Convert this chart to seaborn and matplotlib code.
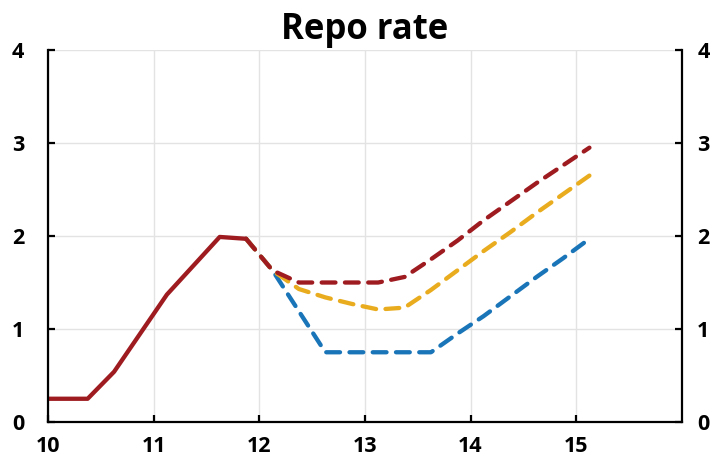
import matplotlib
matplotlib.use("Agg")
import matplotlib.pyplot as plt
import seaborn as sns
import pandas as pd

# Data (quarterly, x in years since 2000)
hist_x = [10.0, 10.375, 10.625, 11.125, 11.625, 11.875]
hist_y = [0.25, 0.25, 0.54, 1.37, 1.99, 1.97]

fc_x = [11.875, 12.125, 12.375, 12.625, 12.875, 13.125, 13.375, 13.625,
        13.875, 14.125, 14.375, 14.625, 14.875, 15.125]
red_y = [1.97, 1.63, 1.50, 1.50, 1.50, 1.50, 1.56, 1.75,
         1.95, 2.17, 2.37, 2.57, 2.76, 2.95]
yellow_y = [1.97, 1.63, 1.43, 1.34, 1.27, 1.21, 1.23, 1.42,
            1.63, 1.84, 2.04, 2.25, 2.45, 2.65]
blue_y = [1.97, 1.63, 1.19, 0.75, 0.75, 0.75, 0.75, 0.75,
          0.95, 1.14, 1.35, 1.56, 1.76, 1.97]

x_ticks = [10, 11, 12, 13, 14, 15]
y_ticks = [0, 1, 2, 3, 4]
title = "Repo rate"

RED = "#9E1B20"
YELLOW = "#E9AC1F"
BLUE = "#1A75B8"

sns.set_theme(style="white")
plt.rcParams['font.family'] = ['Open Sans', 'DejaVu Sans']
plt.rcParams['text.color'] = 'black'
plt.rcParams['xtick.color'] = 'black'
plt.rcParams['ytick.color'] = 'black'

fig = plt.figure(figsize=(7.17, 4.59), dpi=100)
ax = fig.add_axes([0.067, 0.0806, 0.884, 0.8104])

dash = (3.2, 2.2)
sns.lineplot(x=fc_x, y=blue_y, ax=ax, color=BLUE, lw=3.1, sort=False)
sns.lineplot(x=fc_x, y=yellow_y, ax=ax, color=YELLOW, lw=3.1, sort=False)
sns.lineplot(x=fc_x, y=red_y, ax=ax, color=RED, lw=3.1, sort=False)
for ln in ax.lines:
    ln.set_dashes(dash)
    ln.set_dash_capstyle('round')
sns.lineplot(x=hist_x, y=hist_y, ax=ax, color=RED, lw=3.1, sort=False)
ax.lines[-1].set_solid_joinstyle('round')

ax.set_xlim(10, 16)
ax.set_ylim(0, 4)
ax.set_xticks(x_ticks)
ax.set_yticks(y_ticks)
ax.set_xticklabels([str(t) for t in x_ticks], fontweight='bold', fontsize=15.5)
ax.set_yticklabels([str(t) for t in y_ticks], fontweight='bold', fontsize=15.5)
ax.grid(True, color='#E3E3E3', lw=1)
ax.set_axisbelow(True)

for s in ['left', 'right', 'bottom']:
    ax.spines[s].set_visible(True)
    ax.spines[s].set_color('black')
    ax.spines[s].set_linewidth(1.6)
ax.spines['top'].set_visible(False)

ax.tick_params(axis='y', direction='in', length=5, width=1.6, colors='black',
               left=True, right=False, labelleft=True, labelright=False, pad=17)
ax.tick_params(axis='x', direction='in', length=5, width=1.6, colors='black',
               bottom=True, pad=10)
ax.set_xlabel("")
ax.set_ylabel("")

ax2 = ax.twinx()
ax2.set_ylim(0, 4)
ax2.set_yticks(y_ticks)
ax2.set_yticklabels([str(t) for t in y_ticks], fontweight='bold', fontsize=15.5)
ax2.tick_params(axis='y', direction='in', length=5, width=1.6, colors='black',
                right=True, labelright=True, pad=11)
ax2.grid(False)
for s in ax2.spines.values():
    s.set_visible(False)

ax.set_title(title, fontweight='bold', fontsize=25, pad=8, color='black')

fig.savefig("out.png", dpi=100)
